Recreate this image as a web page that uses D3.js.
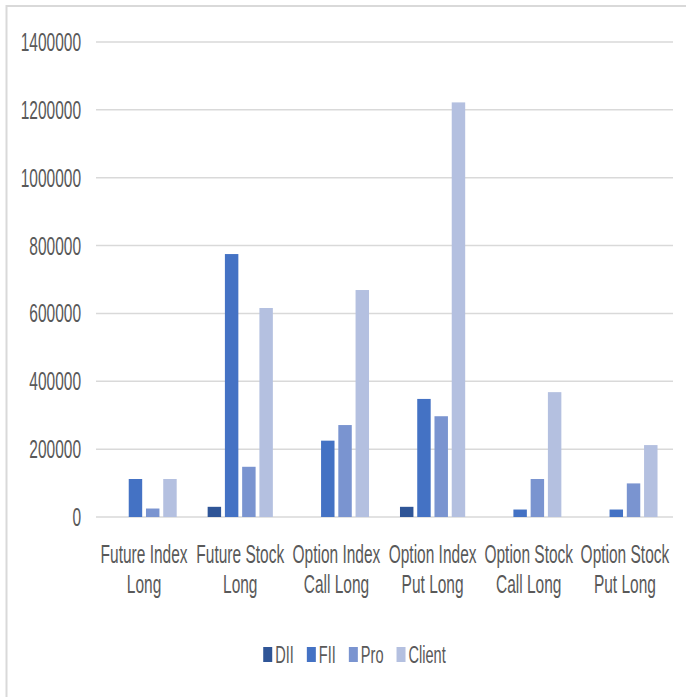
<!DOCTYPE html>
<html>
    <head>
        <meta charset="utf-8">
        <title>Long positions by participant</title>
        <style type="text/css">
            body {
                margin: 0;
                background-color: #ffffff;
            }
            svg {
                display: block;
            }
            text {
                font-family: "Liberation Sans", Arial, sans-serif;
                fill: #595959;
            }
        </style>
        <script src="https://d3js.org/d3.v7.min.js"></script>
    </head>
    <body>
        <svg id="chart" width="686" height="697"></svg>
        <script>

            const categories = [
                ["Future Index", "Long"],
                ["Future Stock", "Long"],
                ["Option Index", "Call Long"],
                ["Option Index", "Put Long"],
                ["Option Stock", "Call Long"],
                ["Option Stock", "Put Long"]
            ];
            const seriesNames = ["DII", "FII", "Pro", "Client"];
            const dii    = [0, 30000, 0, 30000, 0, 0];
            const fii    = [112000, 775000, 225000, 348000, 22000, 22000];
            const pro    = [25000, 148000, 271000, 297000, 112000, 99000];
            const client = [112000, 616000, 669000, 1222000, 368000, 212000];
            const yTicks = [0, 200000, 400000, 600000, 800000, 1000000, 1200000, 1400000];

            const colours = ["#2f5597", "#4472c4", "#7a94d0", "#b4c0e0"];
            const series = [dii, fii, pro, client];

            // the picture is squeezed sideways, so all text is squeezed too
            const squeeze = 0.62;

            const svg = d3.select("#chart");

            // outer border (only top and left show in the picture)
            svg.append("rect")
                .attr("x", 6.5)
                .attr("y", 6)
                .attr("width", 720)
                .attr("height", 720)
                .attr("fill", "none")
                .attr("stroke", "#d9d9d9")
                .attr("stroke-width", 2);

            const plotLeft = 96, plotRight = 673, plotTop = 42, plotBottom = 517;

            const y = d3.scaleLinear()
                .domain([0, 1400000])
                .range([plotBottom, plotTop]);

            const x0 = d3.scaleBand()
                .domain(d3.range(categories.length))
                .range([plotLeft, plotRight]);

            const groupW = 69;
            const x1 = d3.scaleBand()
                .domain(d3.range(seriesNames.length))
                .range([(x0.bandwidth() - groupW) / 2, (x0.bandwidth() + groupW) / 2])
                .paddingInner(0.22)
                .paddingOuter(0.11);

            // gridlines
            svg.append("g")
                .selectAll("line")
                .data(yTicks)
                .join("line")
                .attr("x1", plotLeft)
                .attr("x2", plotRight)
                .attr("y1", d => y(d))
                .attr("y2", d => y(d))
                .attr("stroke", "#d9d9d9")
                .attr("stroke-width", 1.5);

            // y tick labels
            svg.append("g")
                .selectAll("text")
                .data(yTicks)
                .join("text")
                .attr("transform", d => `translate(81,${y(d) + 9}) scale(${squeeze},1)`)
                .attr("text-anchor", "end")
                .attr("font-size", 25)
                .text(d => d);

            // bars
            const groups = svg.append("g")
                .selectAll("g")
                .data(categories)
                .join("g")
                .attr("transform", (d, i) => `translate(${x0(i)},0)`);

            groups.selectAll("rect")
                .data((d, i) => series.map((s, k) => ({ k: k, v: s[i] })))
                .join("rect")
                .attr("x", d => x1(d.k))
                .attr("width", x1.bandwidth())
                .attr("y", d => y(d.v))
                .attr("height", d => y(0) - y(d.v))
                .attr("fill", d => colours[d.k]);

            // category labels, two lines each
            const catLabels = svg.append("g")
                .selectAll("g")
                .data(categories)
                .join("g")
                .attr("transform", (d, i) => `translate(${x0(i) + x0.bandwidth() / 2},0)`);

            catLabels.selectAll("text")
                .data(d => d)
                .join("text")
                .attr("transform", (d, j) => `translate(0,${563 + j * 30}) scale(${squeeze},1)`)
                .attr("text-anchor", "middle")
                .attr("font-size", 25)
                .text(d => d);

            // legend
            const legend = svg.append("g");
            const items = legend.selectAll("g")
                .data(seriesNames)
                .join("g");

            items.append("rect")
                .attr("y", 647)
                .attr("width", 9)
                .attr("height", 15)
                .attr("fill", (d, i) => colours[i]);

            items.append("text")
                .attr("font-size", 23.5)
                .text(d => d);

            let pos = 0;
            items.each(function() {
                const g = d3.select(this);
                const w = g.select("text").node().getComputedTextLength() * squeeze;
                g.select("rect").attr("x", pos);
                g.select("text").attr("transform", `translate(${pos + 12},663) scale(${squeeze},1)`);
                pos += 12 + w + 13;
            });
            const legendW = pos - 13;
            legend.attr("transform", `translate(${354.5 - legendW / 2},0)`);

        </script>
    </body>
</html>
